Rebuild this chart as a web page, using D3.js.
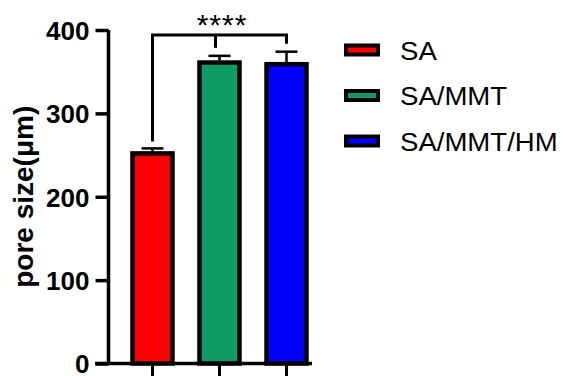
<!DOCTYPE html>
<html><head><meta charset="utf-8">
<script src="https://cdn.jsdelivr.net/npm/d3@7"></script>
<style>body{margin:0;background:#fff;} svg{display:block;} text{font-family:Arial,"Liberation Sans",sans-serif;}</style>
</head><body>
<svg id="c" width="563" height="376"></svg>
<script>
const categories = ["SA", "SA/MMT", "SA/MMT/HM"];
const means = [252, 361, 359];
const errors = [6, 8, 15];
const colors = ["#FF0000", "#0F9966", "#0000FF"];
const yTicks = [0, 100, 200, 300, 400];
const yLabel = "pore size(μm)";
const sigLabel = "****";

const svg = d3.select("#c");
const y = d3.scaleLinear().domain([0, 400]).range([363.5, 30]);
const x = d3.scaleBand().domain(categories).range([132.5, 306.5]).paddingInner(0.403).paddingOuter(0);
const xc = d => x(d) + x.bandwidth() / 2;

// bars
svg.selectAll("rect.bar").data(categories).enter().append("rect")
  .attr("x", d => x(d)).attr("width", x.bandwidth())
  .attr("y", (d, i) => y(means[i])).attr("height", (d, i) => y(0) - y(means[i]))
  .attr("fill", (d, i) => colors[i]).attr("stroke", "#000").attr("stroke-width", 4.5);

// error bars
const eb = svg.append("g").attr("stroke", "#000").attr("stroke-width", 2.5);
categories.forEach((c, i) => {
  eb.append("line").attr("x1", xc(c)).attr("x2", xc(c)).attr("y1", y(means[i]) - 2).attr("y2", y(means[i] + errors[i]));
  eb.append("line").attr("x1", xc(c) - 11).attr("x2", xc(c) + 11).attr("y1", y(means[i] + errors[i])).attr("y2", y(means[i] + errors[i]));
});

// y axis
const yAxis = svg.append("g").attr("transform", "translate(108.5,0)")
  .call(d3.axisLeft(y).tickValues(yTicks).tickSize(13).tickPadding(6).tickFormat(d3.format("d")));
yAxis.attr("font-family", null).attr("font-size", null);
yAxis.select(".domain").attr("stroke-width", 3.5).attr("d", `M0,${y(400)}V${y(0)}`);
yAxis.selectAll(".tick line").attr("stroke-width", 3.5);
yAxis.selectAll(".tick text").attr("font-size", 26).attr("font-weight", "bold").attr("fill", "#000")
  .attr("x", -19).attr("dy", "0.36em");

// x axis
const xAxis = svg.append("g").attr("transform", `translate(0,${y(0)})`)
  .call(d3.axisBottom(x).tickSize(14).tickFormat(""));
xAxis.select(".domain").attr("stroke-width", 3.5).attr("d", "M95,0H312");
xAxis.selectAll(".tick line").attr("stroke-width", 3);

// y label
svg.append("text").attr("transform", `translate(33,${(y(0) + y(400)) / 2}) rotate(-90)`)
  .attr("text-anchor", "middle").attr("font-size", 28).attr("font-weight", "bold").text(yLabel);

// significance bracket
const bY = 35;
const br = svg.append("g").attr("stroke", "#000").attr("stroke-width", 3).attr("fill", "none");
br.append("path").attr("d", `M${xc(categories[0])},${y(means[0] + errors[0]) - 7}V${bY}H${xc(categories[2])}V${y(means[2] + errors[2]) - 8}`);
br.append("line").attr("x1", xc(categories[1]) - 4).attr("x2", xc(categories[1]) - 4).attr("y1", bY).attr("y2", y(means[1] + errors[1]) - 8);
svg.append("text").attr("x", 222).attr("y", 35).attr("text-anchor", "middle").attr("font-size", 30)
  .attr("letter-spacing", 1).text(sigLabel);

// legend
const lg = svg.append("g");
categories.forEach((c, i) => {
  const cy = 50 + i * 45.5;
  lg.append("rect").attr("x", 346).attr("y", cy - 4.5).attr("width", 32).attr("height", 9)
    .attr("fill", colors[i]).attr("stroke", "#000").attr("stroke-width", 4);
  lg.append("text").attr("transform", `translate(400,${cy + 9.5}) scale(1.06,1)`)
    .attr("font-size", 26).attr("fill", "#000").text(c);
});
</script>
</body></html>
